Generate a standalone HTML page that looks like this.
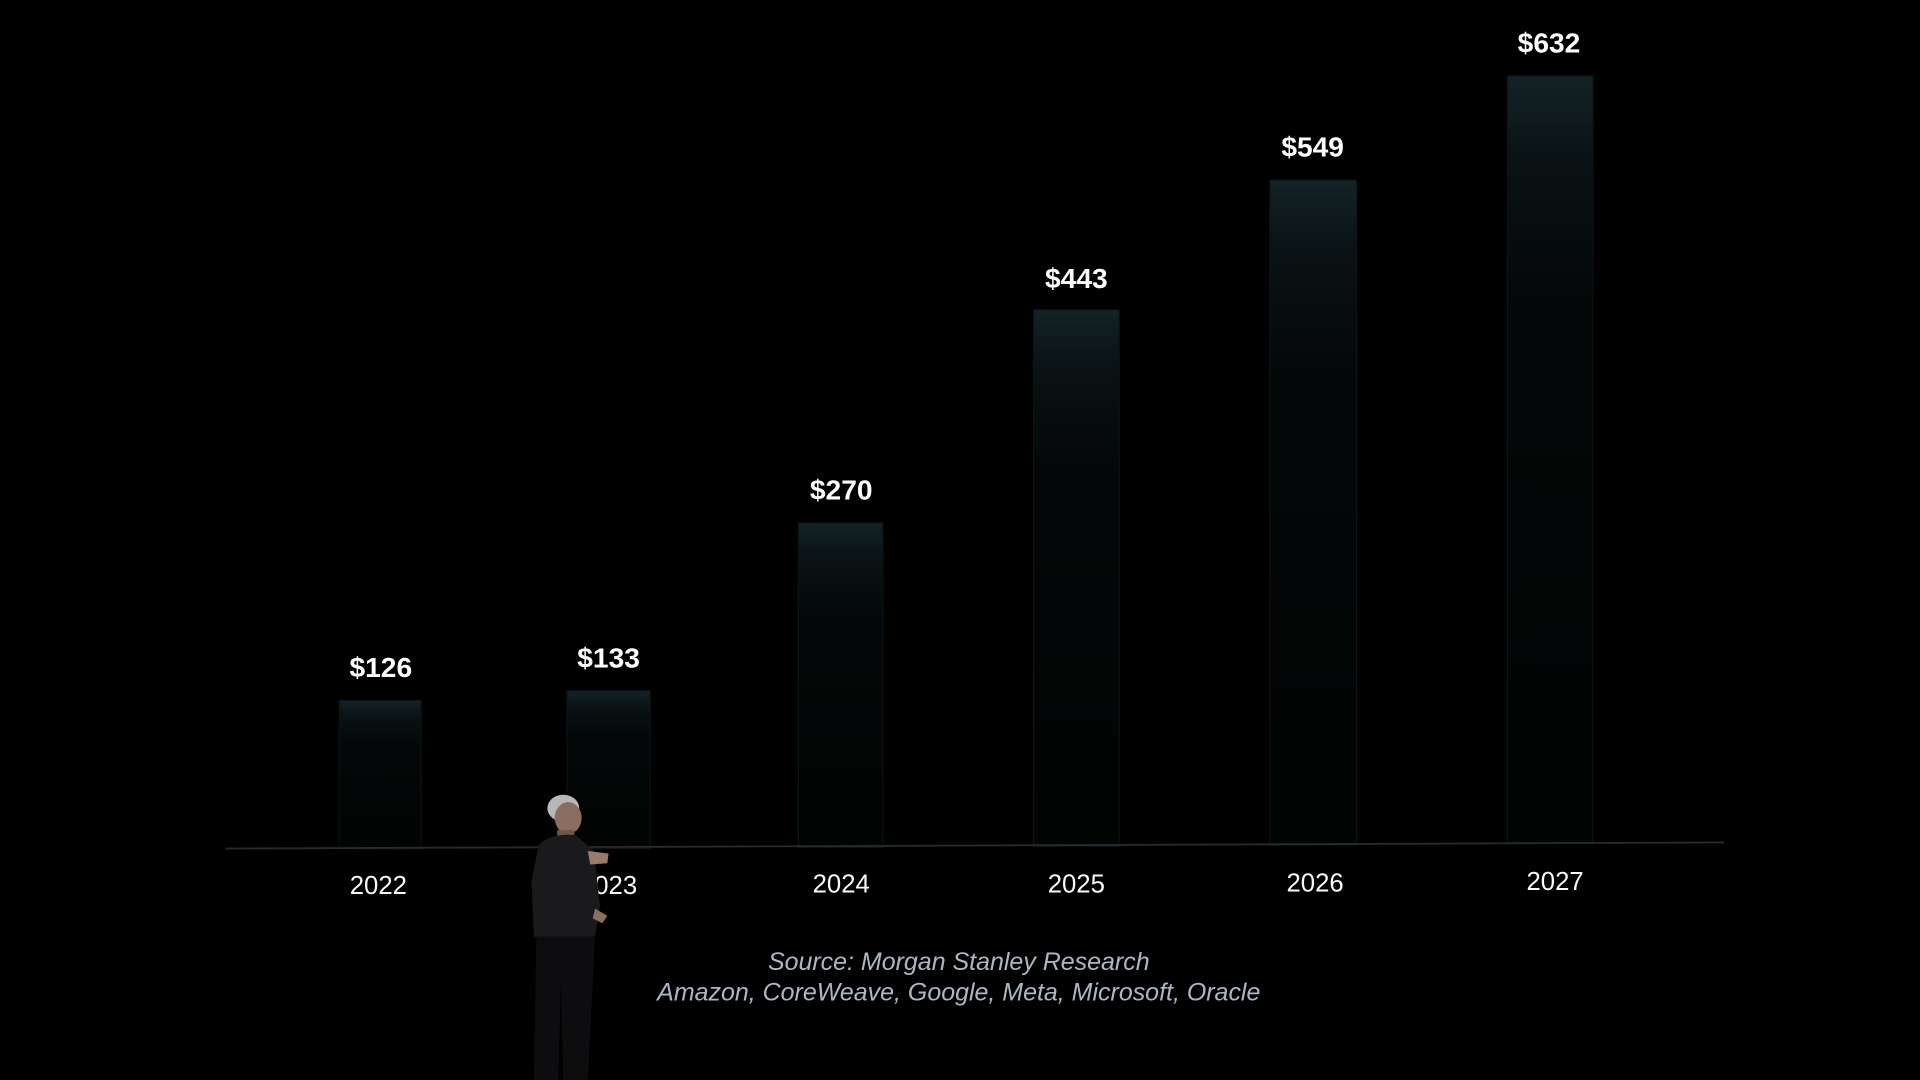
<!DOCTYPE html>
<html><head><meta charset="utf-8">
<style>
html,body{margin:0;padding:0;background:#000;width:1920px;height:1080px;overflow:hidden}
svg{display:block}
text{font-family:"Liberation Sans",sans-serif}
</style></head><body>
<svg width="1920" height="1080" viewBox="0 0 1568 882" preserveAspectRatio="none">
<defs>
<linearGradient id="g" x1="0" y1="0" x2="0" y2="1">
<stop offset="0" stop-color="#142326"/>
<stop offset="0.1" stop-color="#0a1315"/>
<stop offset="0.3" stop-color="#040708"/>
<stop offset="1" stop-color="#020303"/>
</linearGradient>
</defs>
<rect width="1568" height="882" fill="#000"/>
<g fill="url(#g)" stroke="#0b1416" stroke-width="1">
<rect x="277" y="572" width="67" height="121"/>
<rect x="463" y="564" width="68" height="129"/>
<rect x="652" y="427" width="69" height="265"/>
<rect x="844" y="253" width="70" height="438"/>
<rect x="1037" y="147" width="71" height="543"/>
<rect x="1231" y="62" width="70" height="626"/>
</g>
<line x1="184" y1="693" x2="1408" y2="688" stroke="#262c32" stroke-width="1.5"/>
<g fill="#fff" font-weight="bold" font-size="23" text-anchor="middle">
<text x="311" y="553">$126</text>
<text x="497" y="545">$133</text>
<text x="687" y="408">$270</text>
<text x="879" y="235">$443</text>
<text x="1072" y="128">$549</text>
<text x="1265" y="43">$632</text>
</g>
<g fill="#fafafa" font-size="21" text-anchor="middle">
<text x="309" y="730">2022</text>
<text x="497" y="730">2023</text>
<text x="687" y="729">2024</text>
<text x="879" y="729">2025</text>
<text x="1074" y="728">2026</text>
<text x="1270" y="727">2027</text>
</g>
<g fill="#aeb6c6" font-size="20.4" font-style="italic" text-anchor="middle">
<text x="783" y="792">Source: Morgan Stanley Research</text>
<text x="783" y="817">Amazon, CoreWeave, Google, Meta, Microsoft, Oracle</text>
</g>
<g>
<ellipse cx="460" cy="660" rx="13" ry="11" fill="#b8b8b8"/>
<ellipse cx="464" cy="668" rx="11" ry="13" fill="#8a6e60"/>
<rect x="455" y="678" width="14" height="10" fill="#6e5548"/>
<path d="M440 690 Q450 680 470 682 L485 695 L490 740 L486 765 L436 765 L434 720 Z" fill="#1a1a1c"/>
<path d="M480 695 L497 697 L496 705 L482 706 Z" fill="#9a7a68"/>
<path d="M486 742 L496 748 L492 754 L484 750 Z" fill="#8a6e60"/>
<path d="M438 765 L486 765 L480 882 L460 882 L458 800 L456 882 L436 882 Z" fill="#0d0d0f"/>
</g>
</svg>
</body></html>
